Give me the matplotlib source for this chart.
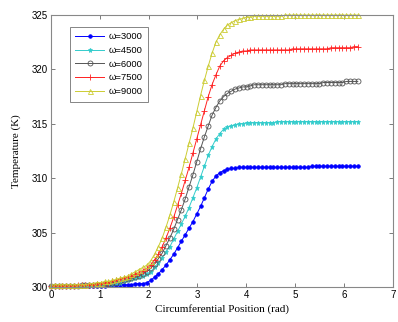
import numpy as np
import matplotlib
matplotlib.use('Agg')
import matplotlib.pyplot as plt

# circumferential position, 81 samples over one revolution
position = np.linspace(0, 2 * np.pi, 81)

speeds = ['3000', '4500', '6000', '7500', '9000']

temp_3000 = [300.1, 300.1, 300.1, 300.1, 300.1, 300.1, 300.1, 300.1, 300.1, 300.1,
             300.1, 300.1, 300.1, 300.1, 300.1, 300.2, 300.2, 300.2, 300.2, 300.2,
             300.2, 300.2, 300.3, 300.3, 300.3, 300.4, 300.6, 300.9, 301.2, 301.6,
             302.0, 302.5, 303.0, 303.6, 304.2, 304.8, 305.4, 306.0, 306.7, 307.4,
             308.2, 309.0, 309.7, 310.2, 310.5, 310.7, 310.8, 310.9, 310.9, 311.0,
             311.0, 311.0, 311.0, 311.0, 311.0, 311.0, 311.0, 311.0, 311.0, 311.0,
             311.0, 311.0, 311.0, 311.0, 311.0, 311.0, 311.0, 311.0, 311.1, 311.1,
             311.1, 311.1, 311.1, 311.1, 311.1, 311.1, 311.1, 311.1, 311.1, 311.1,
             311.1]

temp_4500 = [300.1, 300.1, 300.1, 300.1, 300.1, 300.1, 300.1, 300.1, 300.1, 300.1,
             300.2, 300.2, 300.2, 300.2, 300.2, 300.3, 300.3, 300.4, 300.4, 300.5,
             300.6, 300.7, 300.8, 300.9, 301.0, 301.2, 301.4, 301.8, 302.2, 302.7,
             303.2, 303.7, 304.4, 305.1, 305.8, 306.5, 307.3, 308.2, 309.1, 310.1,
             311.1, 312.1, 312.9, 313.6, 314.1, 314.5, 314.7, 314.8, 314.9, 315.0,
             315.0, 315.1, 315.1, 315.1, 315.1, 315.1, 315.1, 315.1, 315.1, 315.2,
             315.2, 315.2, 315.2, 315.2, 315.2, 315.2, 315.2, 315.2, 315.2, 315.2,
             315.2, 315.2, 315.2, 315.2, 315.2, 315.2, 315.2, 315.2, 315.2, 315.2,
             315.2]

temp_6000 = [300.1, 300.1, 300.1, 300.1, 300.1, 300.1, 300.1, 300.1, 300.2, 300.2,
             300.2, 300.2, 300.2, 300.2, 300.3, 300.3, 300.4, 300.4, 300.5, 300.6,
             300.7, 300.8, 300.9, 301.0, 301.2, 301.4, 301.7, 302.1, 302.6, 303.1,
             303.8, 304.5, 305.3, 306.2, 307.1, 308.1, 309.2, 310.3, 311.5, 312.7,
             313.8, 314.8, 315.8, 316.5, 317.1, 317.5, 317.8, 318.0, 318.2, 318.3,
             318.4, 318.4, 318.5, 318.6, 318.6, 318.6, 318.6, 318.6, 318.6, 318.6,
             318.6, 318.7, 318.7, 318.7, 318.7, 318.7, 318.7, 318.7, 318.7, 318.7,
             318.7, 318.8, 318.8, 318.8, 318.8, 318.8, 318.8, 318.9, 318.9, 318.9,
             318.9]

temp_7500 = [300.1, 300.1, 300.1, 300.1, 300.1, 300.1, 300.1, 300.2, 300.2, 300.2,
             300.2, 300.2, 300.3, 300.3, 300.4, 300.4, 300.5, 300.6, 300.7, 300.8,
             300.9, 301.0, 301.2, 301.3, 301.5, 301.7, 302.0, 302.5, 303.0, 303.7,
             304.5, 305.4, 306.4, 307.5, 308.6, 309.8, 311.0, 312.3, 313.6, 314.9,
             316.2, 317.5, 318.6, 319.5, 320.3, 320.8, 321.1, 321.3, 321.5, 321.6,
             321.7, 321.7, 321.8, 321.8, 321.8, 321.8, 321.8, 321.8, 321.8, 321.8,
             321.8, 321.8, 321.8, 321.9, 321.9, 321.9, 321.9, 321.9, 321.9, 321.9,
             321.9, 321.9, 321.9, 322.0, 322.0, 322.0, 322.0, 322.0, 322.0, 322.1,
             322.1]

temp_9000 = [300.2, 300.2, 300.2, 300.2, 300.2, 300.2, 300.2, 300.2, 300.2, 300.2,
             300.3, 300.3, 300.4, 300.4, 300.5, 300.5, 300.6, 300.7, 300.8, 300.9,
             301.0, 301.2, 301.4, 301.6, 301.8, 302.0, 302.4, 303.0, 303.7, 304.5,
             305.5, 306.6, 307.8, 309.1, 310.4, 311.8, 313.2, 314.6, 316.1, 317.6,
             319.0, 320.3, 321.5, 322.5, 323.2, 323.7, 324.1, 324.3, 324.5, 324.6,
             324.7, 324.8, 324.8, 324.9, 324.9, 324.9, 324.9, 324.9, 324.9, 324.9,
             324.9, 325.0, 325.0, 325.0, 325.0, 325.0, 325.0, 325.0, 325.0, 325.0,
             325.0, 325.0, 325.0, 325.0, 325.0, 325.0, 325.0, 325.0, 325.0, 325.0,
             325.0]

temps = [temp_3000, temp_4500, temp_6000, temp_7500, temp_9000]

# matlab-ish styles for each speed
styles = [dict(color='#0000ff', marker='o', ms=2.6, mfc='#0000ff', mew=0.5),
          dict(color='#33cccc', marker='*', ms=3.6, mfc='#33cccc', mew=0.5),
          dict(color='#555555', marker='o', ms=3.6, mfc='none', mew=0.6),
          dict(color='#ff2222', marker='+', ms=4.5, mew=0.6),
          dict(color='#cccc33', marker='^', ms=3.6, mfc='none', mew=0.6)]

fig = plt.figure(figsize=(3.98, 3.22), dpi=100)
ax = fig.add_axes([0.128, 0.109, 0.859, 0.844])

for speed, temp, st in zip(speeds, temps, styles):
    ax.plot(position, temp, lw=0.7, label='\u03c9=' + speed, clip_on=False, **st)

ax.set_xlim(0, 7)
ax.set_ylim(300, 325)
ax.set_xticks(range(0, 8))
ax.set_yticks(range(300, 326, 5))
ax.tick_params(direction='in', top=True, right=True, length=3, width=0.6,
               color='#666666', labelsize=7, pad=2)
for lab in ax.get_xticklabels() + ax.get_yticklabels():
    lab.set_family('Liberation Sans')
for sp in ax.spines.values():
    sp.set_color('#888888')
    sp.set_linewidth(0.8)

ax.set_xlabel('Circumferential Position (rad)', family='Liberation Serif', fontsize=8, labelpad=3)
ax.set_ylabel('Temperature (K)', family='Liberation Serif', fontsize=8, labelpad=8)

leg = ax.legend(loc='upper left', bbox_to_anchor=(0.055, 0.958), borderaxespad=0,
                numpoints=1, handlelength=3.0,
                prop={'family': 'Liberation Sans', 'size': 6.8},
                fancybox=False, borderpad=0.6, labelspacing=0.5, handletextpad=0.5)
leg.get_frame().set_edgecolor('#666666')
leg.get_frame().set_linewidth(0.7)

plt.savefig('out.png', dpi=100)
